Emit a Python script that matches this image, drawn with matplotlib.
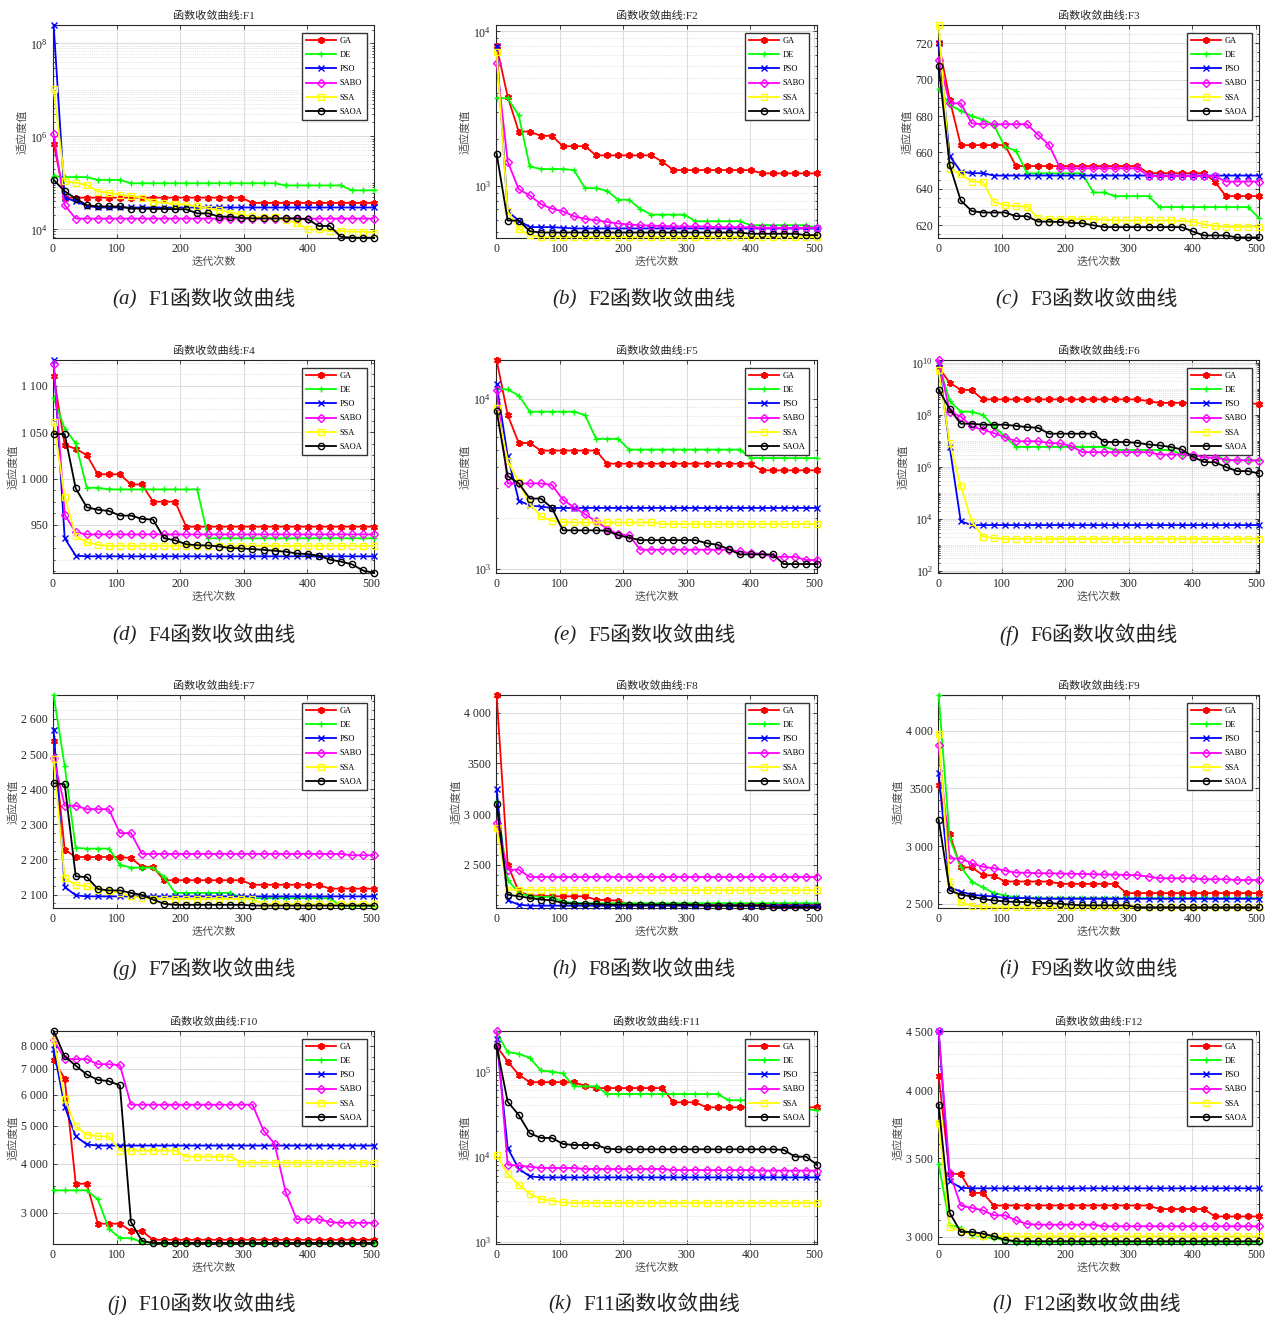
import numpy as np
import matplotlib
matplotlib.use("Agg")
import matplotlib.pyplot as plt
from matplotlib import ticker

plt.rcParams['font.family'] = ['Liberation Serif', 'Noto Sans CJK SC']
plt.rcParams['mathtext.fontset'] = 'stix'
plt.rcParams['axes.unicode_minus'] = False

algorithms = ['GA', 'DE', 'PSO', 'SABO', 'SSA', 'SAOA']
colors = ['#ff0000', '#00ff00', '#0000ff', '#ff00ff', '#ffff00', '#000000']
markers = [(6, 2, 0), '+', 'x', 'D', 's', 'o']
# iteration index of each plotted marker
iters = np.linspace(1, 505, 30)

# ---- F1 ----
f1_ga = [6.9e5] + [4.8e4]*17 + [3.7e4]*12
f1_de = [1.4e5] + [1.33e5]*3 + [1.16e5]*3 + [9.8e4]*14 + [8.8e4]*6 + [6.9e4]*3
f1_pso = [2.5e8, 4.8e4, 4.0e4, 3.2e4] + [2.95e4]*26
f1_sabo = [1.1e6, 3.3e4] + [1.7e4]*28
f1_ssa = [1.03e7, 1.07e5, 1.0e5, 9.0e4, 6.5e4, 6.1e4, 5.5e4, 5.2e4, 4.8e4, 3.9e4,
          3.7e4, 3.5e4, 3.4e4, 3.1e4, 2.8e4, 2.6e4, 2.3e4, 2.1e4, 1.9e4, 1.8e4,
          1.8e4, 1.6e4, 1.35e4, 1.0e4, 1.0e4, 9.2e3, 9.2e3, 8.9e3, 8.9e3, 8.5e3]
f1_saoa = [1.16e5, 6.6e4, 4.6e4, 3.3e4, 3.1e4, 3.1e4, 3.1e4, 2.8e4, 2.8e4, 2.75e4,
           2.75e4, 2.7e4, 2.7e4, 2.2e4, 2.2e4, 1.87e4, 1.87e4, 1.75e4, 1.72e4, 1.72e4,
           1.72e4, 1.72e4, 1.72e4, 1.64e4, 1.18e4, 1.18e4, 6.9e3, 6.6e3, 6.6e3, 6.6e3]

# ---- F2 ----
f2_ga = [8.0e3, 3.77e3, 2.24e3, 2.24e3, 2.1e3, 2.1e3, 1.8e3, 1.8e3, 1.8e3] + [1.57e3]*6 + [1.43e3] + [1.26e3]*8 + [1.2e3]*6
f2_de = [3.69e3, 3.69e3, 2.85e3, 1.33e3, 1.28e3, 1.28e3, 1.28e3, 1.26e3, 962, 962,
         925, 809, 809, 705, 648, 648, 648, 648] + [587]*5 + [553]*6 + [532]
f2_pso = [8.0e3, 681, 593, 538, 538, 538, 532] + [527]*23
f2_sabo = [6.27e3, 1.43e3, 947, 863, 759, 708, 681, 632, 608, 596, 581, 567, 559, 553,
           550, 547] + [543]*4 + [537]*4 + [532]*6
f2_ssa = [7.33e3, 681, 524, 477] + [464]*26
f2_saoa = [1.61e3, 593, 593, 506] + [496]*19 + [487]*5 + [477]*2

# ---- F3 ----
f3_ga = [720, 689, 664, 664, 664, 664, 664] + [652.5]*12 + [648.6]*6 + [644] + [636]*4
f3_de = [695, 686, 683, 680, 678, 675, 663, 661, 648.5, 648.5, 648.5, 648.5, 648.5,
         648.5, 638, 638, 636, 636, 636, 636] + [630]*9 + [624]
f3_pso = [720, 658, 649.5, 648.6, 648.6] + [647.3]*25
f3_sabo = [711, 687, 687, 676, 675.5, 675.5, 675.5, 675.5, 675.5, 669.7, 664, 651.3] + [651.3]*7 + [647]*7 + [644]*4
f3_ssa = [730, 651, 648, 644, 643.7, 632.7, 631, 630.5, 630.3, 623.8] + [623.4]*5 + [623.0] + [622.7]*6 + [622.3, 622, 620.5, 619.5] + [619.1]*4
f3_saoa = [707.3, 653, 633.6, 627.8, 627, 627, 627, 625, 625, 622, 622, 621.8, 621.3, 621.1,
           620, 619] + [619]*7 + [616.6, 614.4, 614.4, 614.4, 613.3, 613.3, 613.3]

# ---- F4 ----
f4_ga = [1111, 1036.5, 1032, 1025.5, 1004.6, 1004.6, 1004.6, 993.6, 993.6, 975, 975, 975] + [948]*18
f4_de = [1087, 1054, 1038, 990, 990] + [988.3]*9 + [935.5]*16
f4_pso = [1127.7, 935.5, 916.7] + [916]*27
f4_sabo = [1124, 961, 941.8] + [939.7]*27
f4_ssa = [1061, 980.5, 938, 931, 928.4] + [927.3]*25
f4_saoa = [1048, 1048, 989.4, 969, 966.3, 965, 960, 960, 956.4, 955.7,
           935.5, 933.3, 929, 928, 927.7, 926.6, 925, 924.5, 923.8, 923,
           922, 921, 919.1, 918.4, 916.7, 912.4, 910.3, 907.4, 900.7, 898.2]

# ---- F5 ----
f5_ga = [1.7e4, 8.07e3, 5.52e3, 5.52e3] + [4.98e3]*6 + [4.17e3]*14 + [3.81e3]*6
f5_de = [1.15e4, 1.14e4, 1.05e4] + [8.44e3]*5 + [8.07e3, 5.84e3, 5.84e3, 5.84e3] + [5.05e3]*11 + [4.5e3]*7
f5_pso = [1.22e4, 4.63e3, 2.53e3, 2.37e3, 2.33e3] + [2.29e3]*25
f5_sabo = [1.13e4, 3.19e3, 3.19e3, 3.19e3, 3.19e3, 3.13e3, 2.56e3, 2.31e3, 2.1e3, 1.91e3,
           1.73e3, 1.6e3, 1.58e3] + [1.3e3]*9 + [1.27e3, 1.24e3, 1.23e3, 1.18e3, 1.18e3, 1.18e3, 1.13e3, 1.13e3]
f5_ssa = [8.83e3, 4.33e3, 3.24e3, 2.42e3, 2.04e3, 1.92e3, 1.89e3] + [1.88e3]*8 + [1.84e3]*15
f5_saoa = [8.55e3, 3.53e3, 3.2e3, 2.6e3, 2.6e3, 2.29e3, 1.69e3, 1.69e3, 1.69e3, 1.69e3,
           1.68e3, 1.58e3, 1.53e3] + [1.48e3]*6 + [1.42e3, 1.39e3, 1.31e3, 1.22e3, 1.22e3, 1.22e3, 1.22e3] + [1.07e3]*4

# ---- F6 ----
f6_ga = [6.9e9, 1.7e9, 9.4e8, 8.9e8] + [3.96e8]*15 + [3.4e8] + [2.9e8]*9 + [2.6e8]
f6_de = [1.0e10, 3.4e8, 1.34e8, 1.34e8, 1.0e8, 3.6e7, 1.5e7, 5.9e6] + [5.9e6]*8 + [4.5e6]*6 + [3.0e6]*4 + [1.8e6]*4
f6_pso = [1.0e10, 5.9e6, 8.1e3] + [5.8e3]*27
f6_sabo = [1.3e10, 1.34e8, 8.7e7, 3.6e7, 2.7e7, 2.0e7, 1.4e7, 9.7e6, 9.7e6, 9.7e6, 8.4e6,
           8.0e6, 6.3e6] + [3.7e6]*7 + [3.0e6]*4 + [2.3e6, 2.3e6, 1.9e6, 1.8e6, 1.8e6, 1.75e6]
f6_ssa = [5.4e9, 8.4e6, 1.9e5, 7.8e3, 2.1e3, 1.8e3] + [1.7e3]*24
f6_saoa = [9.4e8, 1.7e8, 4.6e7, 4.6e7, 4.2e7, 4.2e7, 4.2e7, 3.8e7, 3.4e7, 3.2e7] + [1.9e7]*5 + [9.1e6]*3 + \
          [8.4e6, 7.3e6, 6.7e6, 5.9e6, 4.7e6, 2.5e6, 1.55e6, 1.5e6, 1.0e6, 6.9e5, 6.9e5, 5.6e5]

# ---- F7 ----
f7_ga = [2538, 2228] + [2207]*5 + [2204, 2179, 2179] + [2141]*8 + [2128]*7 + [2117]*5
f7_de = [2668, 2466, 2233, 2231, 2231, 2231, 2185, 2177, 2177, 2177, 2150] + [2105]*6 + [2090]*9 + [2067]*4
f7_pso = [2569, 2122, 2098] + [2095]*27
f7_sabo = [2488, 2353, 2353, 2343, 2343, 2343, 2275, 2275] + [2216]*19 + [2212]*3
f7_ssa = [2485, 2147, 2128, 2124, 2114, 2110, 2105, 2095, 2091] + [2088]*10 + [2072]*11
f7_saoa = [2417, 2414, 2152, 2150, 2116, 2112, 2112, 2105, 2099, 2086, 2074] + [2071]*7 + [2069]*12

# ---- F8 ----
f8_ga = [4174, 2500, 2237, 2195, 2195, 2188, 2188, 2188, 2188, 2156, 2150, 2146] + [2106]*18
f8_de = [3124, 2352, 2221, 2190, 2182, 2182, 2139] + [2120]*23
f8_pso = [3245, 2149, 2106] + [2096]*27
f8_sabo = [2910, 2451, 2451] + [2379]*27
f8_ssa = [2861, 2254, 2254] + [2248]*27
f8_saoa = [3097, 2205, 2188, 2172, 2156, 2149, 2123, 2116, 2116, 2113] + [2106]*9 + [2096]*6 + [2082]*5

# ---- F9 ----
f9_ga = [3528, 3101, 2815, 2815, 2749, 2744] + [2692]*5 + [2672]*6 + [2592]*13
f9_de = [4309, 3064, 2821, 2692, 2641, 2592, 2572, 2555] + [2548]*22
f9_pso = [3631, 2641, 2606, 2578, 2569, 2563] + [2549]*3 + [2543]*21
f9_sabo = [3874, 2892, 2892, 2850, 2821, 2807, 2787, 2769, 2769, 2764, 2764, 2762, 2760,
           2758, 2756, 2754, 2752, 2750, 2748, 2735] + [2721]*4 + [2712]*3 + [2706]*3
f9_ssa = [3971, 2692, 2512, 2483, 2477] + [2469]*25
f9_saoa = [3227, 2615, 2578, 2563, 2540, 2529, 2520, 2515, 2515, 2506, 2506, 2500, 2492,
           2486, 2486, 2486, 2486, 2486] + [2469]*12

# ---- F10 ----
f10_ga = [7350, 6600, 3556, 3556, 2811, 2811, 2811, 2693, 2693] + [2558]*21
f10_de = [3420, 3420, 3420, 3420, 3245, 2730, 2585, 2580, 2525] + [2510]*21
f10_pso = [7870, 5600, 4700, 4480] + [4450]*26
f10_sabo = [8300, 7400, 7400, 7400, 7180, 7180, 7140] + [5660]*12 + \
           [4860, 4500, 3390, 2885, 2885, 2885, 2840, 2825, 2825, 2825, 2825]
f10_ssa = [8300, 5860, 4980, 4750, 4700, 4700] + [4320]*6 + [4170]*5 + [4025]*13
f10_saoa = [8730, 7520, 7120, 6760, 6550, 6500, 6340, 2840, 2540] + [2510]*21

# ---- F11 ----
f11_ga = [1.99e5, 1.31e5, 9.2e4] + [7.5e4]*5 + [6.8e4] + [6.4e4]*7 + [4.35e4]*3 + [3.8e4]*11
f11_de = [2.9e5, 1.69e5, 1.62e5, 1.45e5, 1.03e5, 1.0e5, 9.5e4, 6.7e4, 6.7e4, 6.7e4] + \
         [5.45e4]*11 + [4.6e4]*6 + [4.0e4, 3.6e4, 3.5e4]
f11_pso = [2.42e5, 1.26e4, 7.2e3, 5.87e3] + [5.7e3]*26
f11_sabo = [2.97e5, 8.05e3, 7.83e3, 7.6e3] + [7.36e3]*4 + [7.16e3]*8 + [6.95e3]*8 + [6.85e3]*6
f11_ssa = [1.05e4, 6.25e3, 4.68e3, 3.64e3, 3.17e3, 3.03e3, 2.9e3] + [2.85e3]*23
f11_saoa = [1.99e5, 4.43e4, 3.09e4, 1.88e4, 1.66e4, 1.66e4, 1.41e4, 1.37e4, 1.37e4, 1.37e4,
            1.24e4] + [1.22e4]*15 + [1.2e4, 1.0e4, 1.0e4, 8.05e3]

# ---- F12 ----
f12_ga = [4118, 3395, 3395, 3270, 3270] + [3190]*15 + [3168]*5 + [3122]*5
f12_de = [3465, 3072, 3052, 3012, 3000, 2990, 2980] + [2965]*23
f12_pso = [4500, 3347, 3304] + [3300]*27
f12_sabo = [4500, 3402, 3190, 3175, 3160, 3129, 3129, 3098, 3076] + [3072]*6 + [3062]*15
f12_ssa = [3755, 3058, 3031, 3012, 3006] + [3002]*25
f12_saoa = [3893, 3144, 3028, 3028, 3018, 3002, 2982] + [2973]*23

curves = [
    [f1_ga, f1_de, f1_pso, f1_sabo, f1_ssa, f1_saoa],
    [f2_ga, f2_de, f2_pso, f2_sabo, f2_ssa, f2_saoa],
    [f3_ga, f3_de, f3_pso, f3_sabo, f3_ssa, f3_saoa],
    [f4_ga, f4_de, f4_pso, f4_sabo, f4_ssa, f4_saoa],
    [f5_ga, f5_de, f5_pso, f5_sabo, f5_ssa, f5_saoa],
    [f6_ga, f6_de, f6_pso, f6_sabo, f6_ssa, f6_saoa],
    [f7_ga, f7_de, f7_pso, f7_sabo, f7_ssa, f7_saoa],
    [f8_ga, f8_de, f8_pso, f8_sabo, f8_ssa, f8_saoa],
    [f9_ga, f9_de, f9_pso, f9_sabo, f9_ssa, f9_saoa],
    [f10_ga, f10_de, f10_pso, f10_sabo, f10_ssa, f10_saoa],
    [f11_ga, f11_de, f11_pso, f11_sabo, f11_ssa, f11_saoa],
    [f12_ga, f12_de, f12_pso, f12_sabo, f12_ssa, f12_saoa],
]

letters = 'abcdefghijkl'
log_scale = [True, True, False, False, True, True, False, False, False, True, True, True]
ylims = [(6.5e3, 2.5e8), (457, 1.1e4), (613, 730), (898, 1128), (948, 1.7e4), (83, 1.3e10),
         (2062, 2668), (2073, 4174), (2463, 4309), (2495, 8730), (940, 3.0e5), (2957, 4500)]
yticks = [[1e4, 1e6, 1e8], [1e3, 1e4], [620, 640, 660, 680, 700, 720], [950, 1000, 1050, 1100],
          [1e3, 1e4], [1e2, 1e4, 1e6, 1e8, 1e10], [2100, 2200, 2300, 2400, 2500, 2600],
          [2500, 3000, 3500, 4000], [2500, 3000, 3500, 4000],
          [3000, 4000, 5000, 6000, 7000, 8000], [1e3, 1e4, 1e5], [3000, 3500, 4000, 4500]]
yticklabels = [None, None, None, ['950', '1 000', '1 050', '1 100'], None, None,
               ['2 100', '2 200', '2 300', '2 400', '2 500', '2 600'],
               ['2 500', '3 000', '3500', '4 000'], ['2 500', '3 000', '3500', '4 000'],
               ['3 000', '4 000', '5 000', '6 000', '7 000', '8 000'], None,
               ['3 000', '3 500', '4 000', '4 500']]

W, H = 1270, 1321
col_left = [53, 496, 938]
row_top = [25, 360, 695, 1031]
ax_w, ax_h = 321, 213
cap_left = [[148, 588, 1030], [148, 588, 1030], [148, 588, 1030], [138, 583, 1023]]
cap_y = [300, 636, 970, 1305]

fig = plt.figure(figsize=(W / 100, H / 100), dpi=100)

for i in range(12):
    r, c = divmod(i, 3)
    ax = fig.add_axes([col_left[c] / W, 1 - (row_top[r] + ax_h) / H, ax_w / W, ax_h / H])
    for j in range(6):
        open_marker = j >= 3
        ax.plot(iters, curves[i][j], color=colors[j], marker=markers[j], lw=1.3,
                ms=5 if j == 0 else 4.5, mew=1.4 if j == 0 else 1.0,
                mfc='none' if open_marker else colors[j], label=algorithms[j],
                clip_on=False, zorder=3 + j)
    if log_scale[i]:
        ax.set_yscale('log')
        ax.yaxis.set_minor_locator(ticker.LogLocator(base=10, subs=np.arange(1, 10), numticks=40))
        ax.yaxis.set_minor_formatter(ticker.NullFormatter())
    ax.set_ylim(*ylims[i])
    ax.yaxis.set_major_locator(ticker.FixedLocator(yticks[i]))
    if yticklabels[i] is not None:
        ax.yaxis.set_major_formatter(ticker.FixedFormatter(yticklabels[i]))
        if log_scale[i]:
            step = 500 if i == 9 else 100
            ax.yaxis.set_minor_locator(ticker.MultipleLocator(step))
            ax.yaxis.set_minor_formatter(ticker.NullFormatter())
    elif not log_scale[i]:
        ax.yaxis.set_minor_locator(ticker.AutoMinorLocator(4))
    if i in (7, 8):
        ax.yaxis.set_minor_locator(ticker.AutoMinorLocator(5))
    if i in (3, 6):
        ax.yaxis.set_minor_locator(ticker.AutoMinorLocator(4))

    ax.set_xlim(0, 505)
    ax.set_xticks([0, 100, 200, 300, 400] if i == 0 else [0, 100, 200, 300, 400, 500])
    ax.grid(True, which='major', color='#dedede', lw=0.8, ls='-')
    ax.grid(True, which='minor', axis='y', color='#cfcfcf', lw=0.5, ls=':')
    ax.set_axisbelow(True)
    ax.tick_params(which='both', direction='in', top=True, right=True,
                   labelsize=8.5, colors='#262626', width=0.6)
    ax.tick_params(which='major', length=3)
    ax.tick_params(which='minor', length=1.5)
    for s in ax.spines.values():
        s.set_color('#262626')
        s.set_linewidth(0.8)

    ax.set_title('函数收敛曲线:F%d' % (i + 1), fontsize=8, pad=4, color='#262626')
    ax.set_xlabel('迭代次数', fontsize=8, color='#4d4d4d', labelpad=1)
    ax.set_ylabel('适应度值', fontsize=8, color='#4d4d4d', labelpad=2)

    leg = ax.legend(loc='upper right', fontsize=6, frameon=True, fancybox=False,
                    edgecolor='#333333', framealpha=1, handlelength=3.6,
                    handletextpad=0.4, labelspacing=0.75, borderpad=0.5,
                    borderaxespad=0.9)
    leg.get_frame().set_linewidth(1.0)

    # caption: "(a)" with italic letter, then the function name
    x0 = cap_left[r][c] / W
    y0 = 1 - cap_y[r] / H
    fig.text(x0 - 11 / W, y0, '(%s)' % letters[i], ha='right', va='center',
             fontsize=15, style='italic', color='#222222')
    fig.text(x0, y0, 'F%d函数收敛曲线' % (i + 1), ha='left', va='center',
             fontsize=15, color='#222222')

fig.savefig('out.png', dpi=100)
